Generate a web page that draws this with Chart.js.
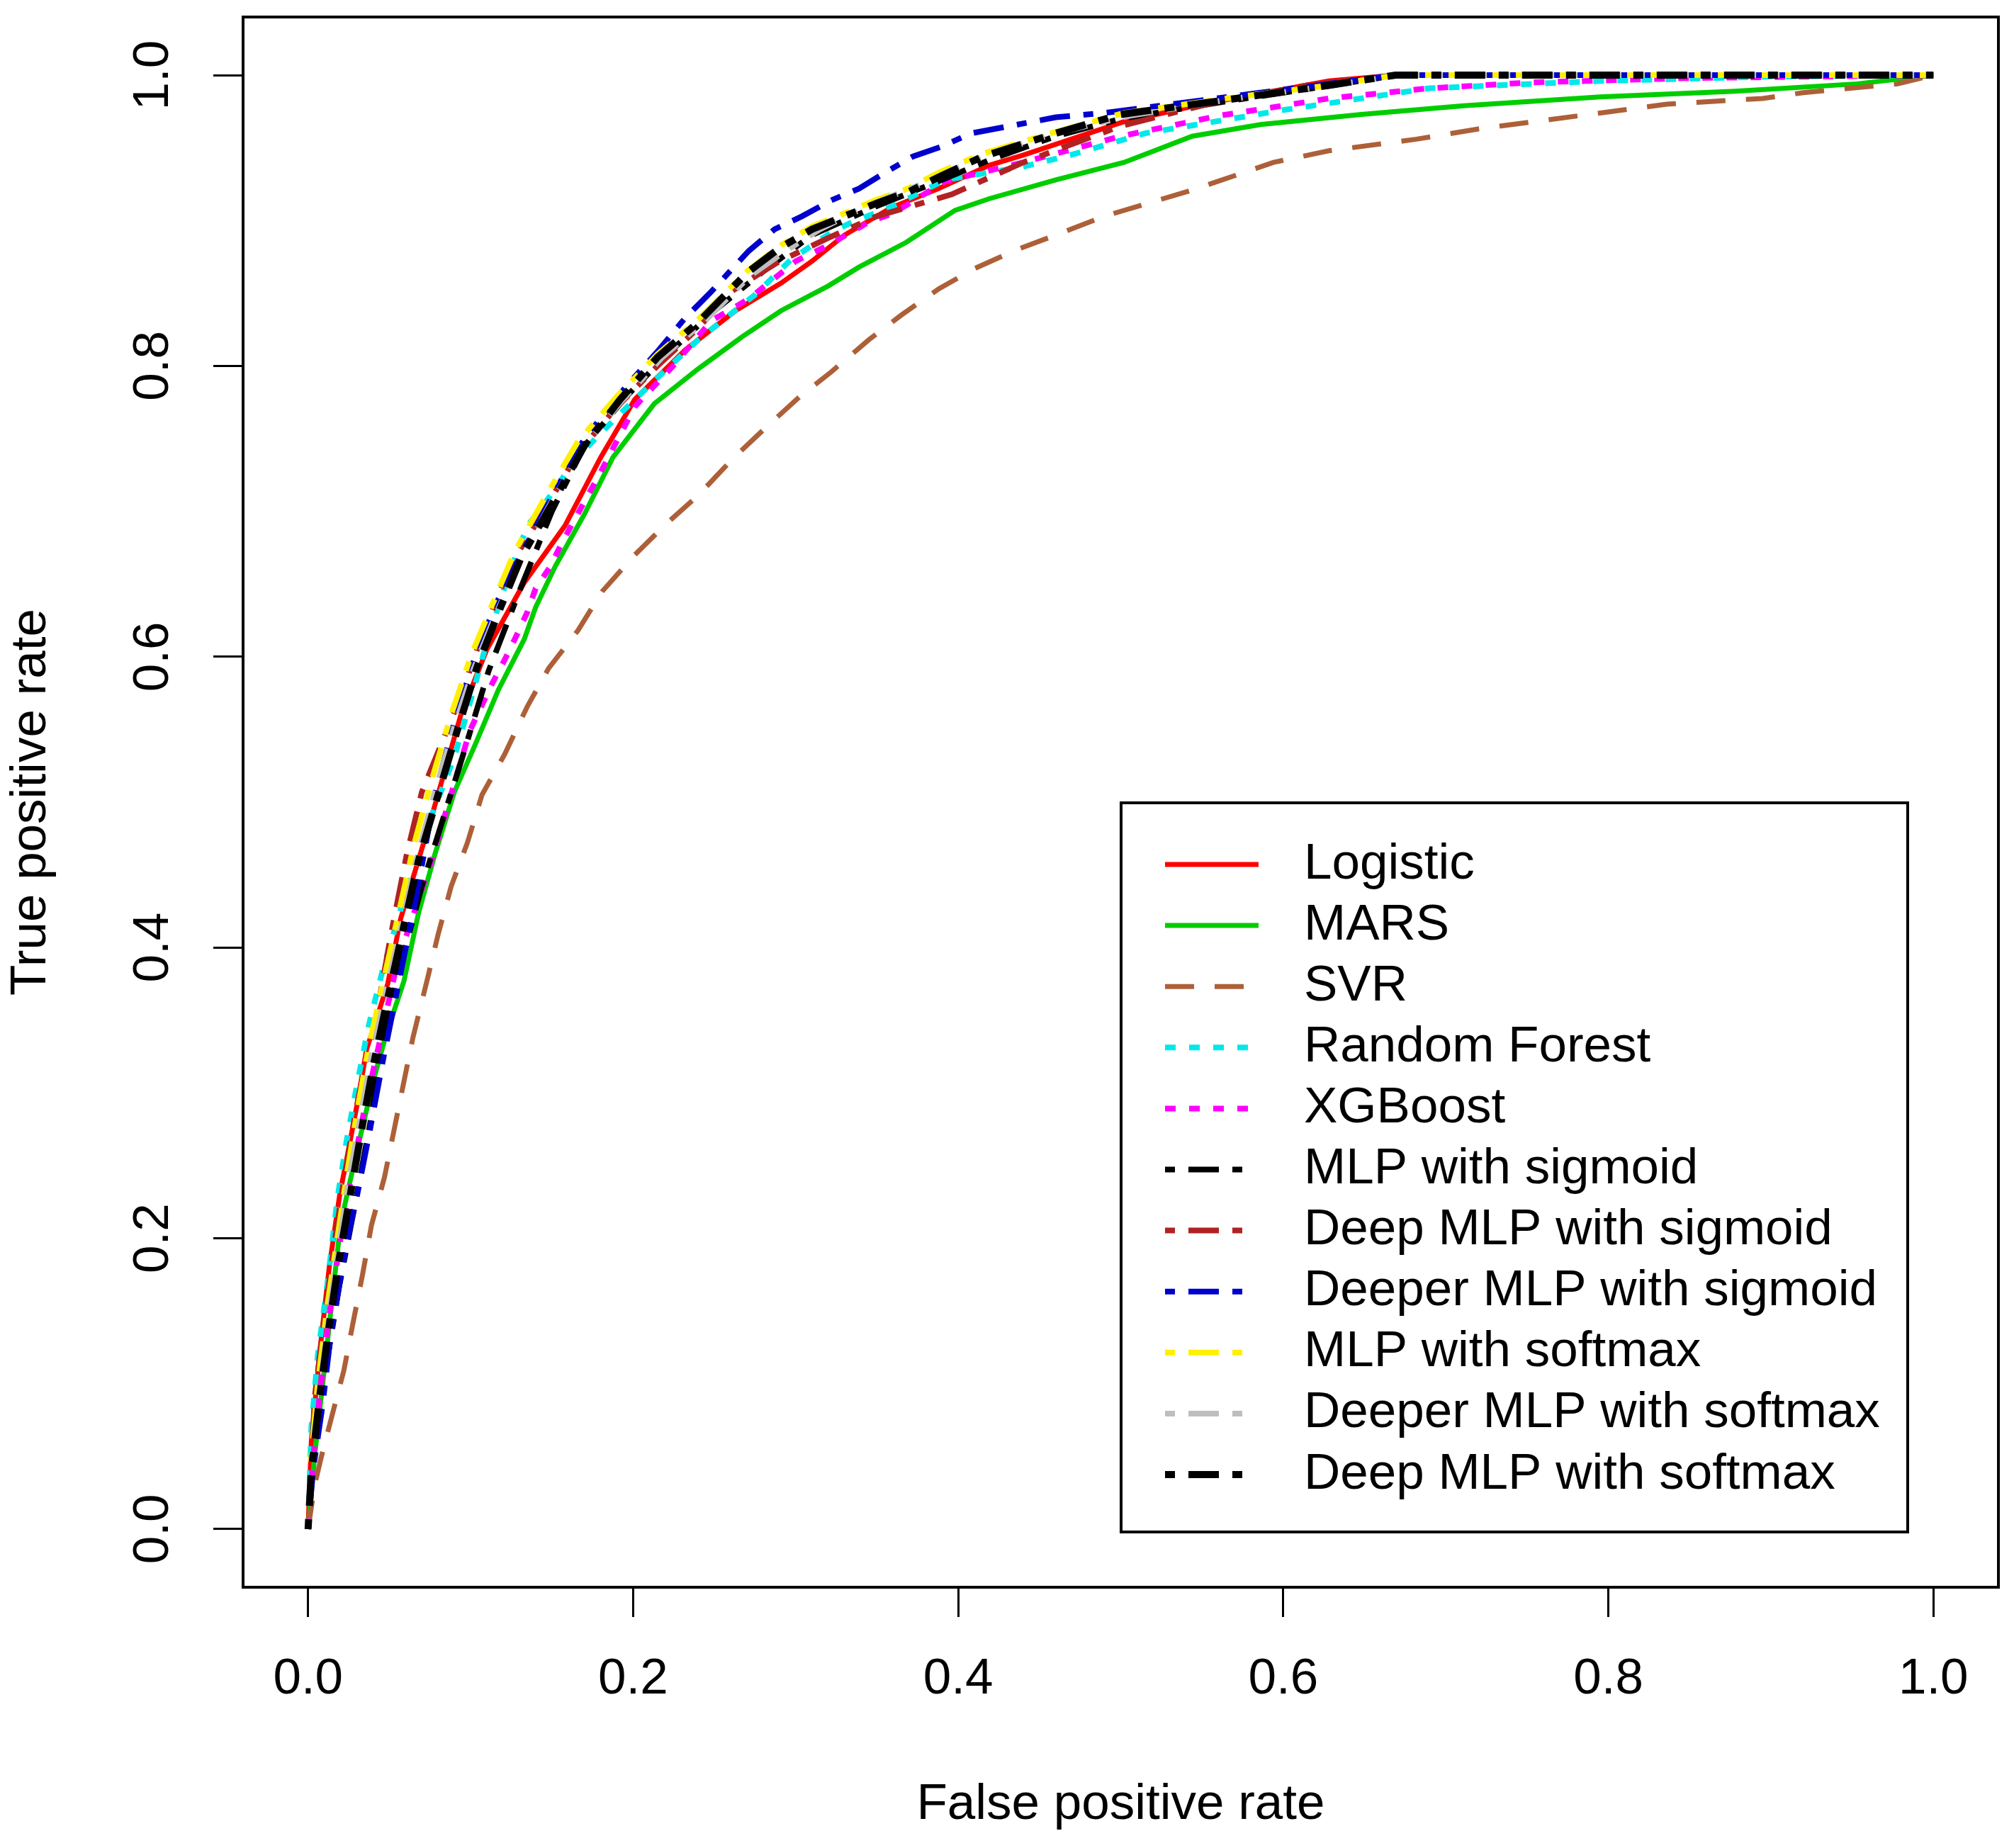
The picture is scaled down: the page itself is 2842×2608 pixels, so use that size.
<!DOCTYPE html>
<html>
<head>
<meta charset="utf-8">
<script src="https://cdn.jsdelivr.net/npm/chart.js@4.4.0/dist/chart.umd.min.js"></script>
<style>
  body { margin: 0; background: #fff; }
  #wrap { width: 2842px; height: 2608px; }
</style>
</head>
<body>
<div id="wrap"><canvas id="roc"></canvas></div>
<script>
// axis ticks
const xTicks = [0, 0.2, 0.4, 0.6, 0.8, 1.0];
const xTickLabels = ['0.0', '0.2', '0.4', '0.6', '0.8', '1.0'];
const yTicks = [0, 0.2, 0.4, 0.6, 0.8, 1.0];
const yTickLabels = ['0.0', '0.2', '0.4', '0.6', '0.8', '1.0'];

const seriesNames = [
    'Logistic', 'MARS', 'SVR', 'Random Forest', 'XGBoost',
    'MLP with sigmoid', 'Deep MLP with sigmoid', 'Deeper MLP with sigmoid',
    'MLP with softmax', 'Deeper MLP with softmax', 'Deep MLP with softmax'
];

// ROC points (false positive rate / true positive rate)
const logisticFpr = [0, 0.002, 0.007, 0.013, 0.0196, 0.0235, 0.031, 0.036, 0.049, 0.057, 0.076, 0.094, 0.11, 0.125, 0.133, 0.158, 0.18, 0.201, 0.232, 0.263, 0.291, 0.31, 0.33, 0.359, 0.388, 0.419, 0.44, 0.502, 0.55, 0.594, 0.628, 0.669, 1];
const logisticTpr = [0, 0.06, 0.12, 0.18, 0.231, 0.253, 0.297, 0.33, 0.375, 0.42, 0.49, 0.56, 0.605, 0.635, 0.651, 0.69, 0.737, 0.777, 0.811, 0.838, 0.857, 0.872, 0.89, 0.909, 0.922, 0.938, 0.945, 0.968, 0.98, 0.989, 0.996, 1, 1];

const marsFpr = [0, 0.004, 0.01, 0.02, 0.03, 0.041, 0.048, 0.059, 0.068, 0.078, 0.09, 0.103, 0.117, 0.133, 0.14, 0.152, 0.17, 0.1875, 0.213, 0.24, 0.267, 0.291, 0.32, 0.339, 0.368, 0.398, 0.419, 0.46, 0.502, 0.544, 0.586, 0.648, 0.711, 0.795, 0.878, 0.953, 1];
const marsTpr = [0, 0.05, 0.11, 0.21, 0.26, 0.312, 0.34, 0.377, 0.424, 0.464, 0.507, 0.54, 0.577, 0.612, 0.634, 0.662, 0.698, 0.737, 0.774, 0.798, 0.82, 0.838, 0.855, 0.868, 0.885, 0.907, 0.915, 0.928, 0.94, 0.958, 0.966, 0.973, 0.979, 0.985, 0.989, 0.994, 1];

const svrFpr = [0, 0.004, 0.008, 0.014, 0.022, 0.0275, 0.0335, 0.039, 0.047, 0.053, 0.059, 0.0645, 0.074, 0.08, 0.088, 0.098, 0.107, 0.121, 0.135, 0.148, 0.166, 0.181, 0.201, 0.219, 0.24, 0.262, 0.281, 0.3026, 0.322, 0.345, 0.365, 0.388, 0.41, 0.436, 0.46, 0.49, 0.544, 0.573, 0.594, 0.628, 0.682, 0.72, 0.795, 0.836, 0.895, 0.92, 0.978, 1];
const svrTpr = [0, 0.03, 0.049, 0.075, 0.109, 0.141, 0.175, 0.209, 0.242, 0.275, 0.308, 0.338, 0.381, 0.409, 0.442, 0.472, 0.505, 0.533, 0.566, 0.592, 0.618, 0.645, 0.67, 0.69, 0.711, 0.737, 0.757, 0.779, 0.796, 0.818, 0.835, 0.853, 0.867, 0.88, 0.89, 0.903, 0.921, 0.932, 0.94, 0.948, 0.956, 0.963, 0.974, 0.98, 0.984, 0.988, 0.994, 1];

const rfFpr = [0, 0.002, 0.006, 0.012, 0.018, 0.0235, 0.03, 0.037, 0.046, 0.058, 0.074, 0.09, 0.099, 0.11, 0.123, 0.135, 0.154, 0.162, 0.19, 0.217, 0.24, 0.275, 0.297, 0.322, 0.335, 0.36, 0.392, 0.44, 0.469, 0.515, 0.6, 0.69, 0.795, 0.9, 1];
const rfTpr = [0, 0.07, 0.12, 0.17, 0.227, 0.266, 0.305, 0.345, 0.385, 0.43, 0.485, 0.531, 0.566, 0.61, 0.655, 0.69, 0.718, 0.733, 0.765, 0.794, 0.818, 0.849, 0.873, 0.892, 0.899, 0.91, 0.928, 0.937, 0.945, 0.96, 0.976, 0.991, 0.996, 0.999, 1];

const xgbFpr = [0, 0.004, 0.009, 0.014, 0.02, 0.027, 0.034, 0.041, 0.055, 0.076, 0.0995, 0.113, 0.121, 0.128, 0.135, 0.14, 0.149, 0.156, 0.18, 0.201, 0.2246, 0.248, 0.271, 0.3, 0.32, 0.345, 0.36, 0.392, 0.44, 0.5, 0.56, 0.628, 0.69, 0.753, 0.85, 1];
const xgbTpr = [0, 0.06, 0.11, 0.155, 0.2, 0.245, 0.285, 0.32, 0.39, 0.46, 0.549, 0.581, 0.598, 0.614, 0.631, 0.647, 0.662, 0.678, 0.727, 0.772, 0.8, 0.831, 0.846, 0.872, 0.883, 0.899, 0.905, 0.927, 0.94, 0.958, 0.972, 0.984, 0.991, 0.995, 0.998, 1];

const mlpSigFpr = [0, 0.0013, 0.006, 0.012, 0.019, 0.0257, 0.031, 0.039, 0.043, 0.055, 0.07, 0.0955, 0.111, 0.13, 0.15, 0.17, 0.195, 0.22, 0.25, 0.28, 0.31, 0.35, 0.39, 0.42, 0.46, 0.5, 0.565, 0.63, 0.67, 1];
const mlpSigTpr = [0, 0.025, 0.073, 0.118, 0.166, 0.205, 0.236, 0.284, 0.318, 0.38, 0.442, 0.533, 0.59, 0.645, 0.7, 0.745, 0.778, 0.807, 0.838, 0.865, 0.89, 0.91, 0.928, 0.942, 0.958, 0.97, 0.982, 0.993, 1, 1];

const deepSigFpr = [0, 0.002, 0.004, 0.01, 0.016, 0.022, 0.029, 0.035, 0.041, 0.051, 0.0607, 0.07, 0.082, 0.094, 0.1055, 0.113, 0.125, 0.145, 0.166, 0.19, 0.215, 0.24, 0.26, 0.29, 0.32, 0.35, 0.396, 0.44, 0.5, 0.56, 0.62, 0.67, 1];
const deepSigTpr = [0, 0.04, 0.09, 0.145, 0.195, 0.24, 0.285, 0.32, 0.346, 0.409, 0.464, 0.507, 0.54, 0.573, 0.61, 0.631, 0.664, 0.7, 0.74, 0.772, 0.8, 0.826, 0.851, 0.872, 0.888, 0.903, 0.918, 0.94, 0.965, 0.982, 0.994, 1, 1];

const deeperSigFpr = [0, 0.003, 0.009, 0.014, 0.0236, 0.0297, 0.0373, 0.046, 0.056, 0.066, 0.078, 0.09, 0.1016, 0.115, 0.13, 0.15, 0.17, 0.195, 0.215, 0.232, 0.248, 0.271, 0.287, 0.304, 0.322, 0.339, 0.355, 0.372, 0.39, 0.408, 0.46, 0.49, 0.586, 0.669, 1];
const deeperSigTpr = [0, 0.04, 0.086, 0.134, 0.196, 0.227, 0.27, 0.322, 0.377, 0.432, 0.505, 0.555, 0.596, 0.635, 0.668, 0.71, 0.75, 0.785, 0.81, 0.833, 0.851, 0.879, 0.894, 0.903, 0.914, 0.922, 0.933, 0.944, 0.951, 0.96, 0.971, 0.974, 0.988, 1, 1];

const mlpSoftFpr = [0, 0.002, 0.006, 0.012, 0.018, 0.024, 0.03, 0.037, 0.045, 0.055, 0.065, 0.076, 0.088, 0.1, 0.113, 0.127, 0.145, 0.166, 0.19, 0.215, 0.24, 0.271, 0.291, 0.31, 0.33, 0.349, 0.369, 0.388, 0.415, 0.46, 0.502, 0.565, 0.628, 0.669, 1];
const mlpSoftTpr = [0, 0.05, 0.1, 0.155, 0.2, 0.245, 0.286, 0.33, 0.37, 0.42, 0.47, 0.515, 0.56, 0.6, 0.635, 0.672, 0.708, 0.748, 0.779, 0.808, 0.832, 0.866, 0.883, 0.896, 0.905, 0.914, 0.922, 0.933, 0.946, 0.961, 0.974, 0.984, 0.993, 1, 1];

const deeperSoftFpr = [0, 0.002, 0.007, 0.013, 0.019, 0.025, 0.032, 0.039, 0.047, 0.057, 0.067, 0.078, 0.09, 0.102, 0.115, 0.13, 0.148, 0.17, 0.193, 0.218, 0.245, 0.272, 0.295, 0.315, 0.335, 0.355, 0.375, 0.395, 0.42, 0.46, 0.505, 0.565, 0.63, 0.672, 1];
const deeperSoftTpr = [0, 0.045, 0.095, 0.15, 0.195, 0.24, 0.282, 0.325, 0.365, 0.413, 0.462, 0.507, 0.552, 0.592, 0.628, 0.665, 0.703, 0.745, 0.776, 0.806, 0.832, 0.862, 0.88, 0.894, 0.905, 0.915, 0.924, 0.934, 0.946, 0.96, 0.972, 0.983, 0.993, 1, 1];

const deepSoftFpr = [0, 0.002, 0.007, 0.013, 0.019, 0.026, 0.033, 0.04, 0.048, 0.058, 0.068, 0.08, 0.092, 0.104, 0.117, 0.131, 0.15, 0.17, 0.192, 0.215, 0.24, 0.27, 0.29, 0.31, 0.33, 0.35, 0.37, 0.39, 0.415, 0.46, 0.5, 0.565, 0.628, 0.669, 1];
const deepSoftTpr = [0, 0.04, 0.09, 0.14, 0.185, 0.23, 0.275, 0.318, 0.36, 0.41, 0.46, 0.505, 0.55, 0.593, 0.63, 0.668, 0.705, 0.745, 0.777, 0.806, 0.83, 0.864, 0.881, 0.894, 0.903, 0.912, 0.92, 0.931, 0.944, 0.96, 0.973, 0.983, 0.993, 1, 1];

const FONT = '"Liberation Sans", Arial, sans-serif';
const FONT_SIZE = 71;

const solid = [];
const dashed = [41, 29];
const dotted = [15, 19];
const dotdash = [14, 19, 43, 19];

const styles = [
    { color: '#FF0000', dash: solid, width: 7 },
    { color: '#00CD00', dash: solid, width: 7 },
    { color: '#AD6038', dash: dashed, width: 7 },
    { color: '#00E8E8', dash: dotted, width: 8 },
    { color: '#FF00FF', dash: dotted, width: 8 },
    { color: '#000000', dash: dotdash, width: 8 },
    { color: '#B22222', dash: dotdash, width: 8 },
    { color: '#0000CD', dash: dotdash, width: 8 },
    { color: '#FFF000', dash: dotdash, width: 8 },
    { color: '#BEBEBE', dash: dotdash, width: 8 },
    { color: '#000000', dash: dotdash, width: 10 }
];

const seriesFpr = [logisticFpr, marsFpr, svrFpr, rfFpr, xgbFpr, mlpSigFpr, deepSigFpr, deeperSigFpr, mlpSoftFpr, deeperSoftFpr, deepSoftFpr];
const seriesTpr = [logisticTpr, marsTpr, svrTpr, rfTpr, xgbTpr, mlpSigTpr, deepSigTpr, deeperSigTpr, mlpSoftTpr, deeperSoftTpr, deepSoftTpr];

const datasets = seriesNames.map((name, i) => ({
    label: name,
    data: seriesFpr[i].map((x, j) => ({ x: x, y: seriesTpr[i][j] })),
    showLine: true,
    borderColor: styles[i].color,
    backgroundColor: styles[i].color,
    borderDash: styles[i].dash,
    borderWidth: styles[i].width,
    borderCapStyle: 'butt',
    pointRadius: 0,
    tension: 0,
    fill: false,
    order: seriesNames.length - i // later series drawn on top, like R
}));

// box, rotated y tick labels and the legend
const decorations = {
    id: 'decorations',
    afterDraw(chart) {
        const ctx = chart.ctx;
        const ca = chart.chartArea;
        ctx.save();

        ctx.strokeStyle = '#000';
        ctx.lineWidth = 4;
        ctx.setLineDash([]);
        ctx.strokeRect(ca.left, ca.top, ca.right - ca.left, ca.bottom - ca.top);

        ctx.fillStyle = '#000';
        ctx.font = FONT_SIZE + 'px ' + FONT;
        ctx.textAlign = 'center';
        ctx.textBaseline = 'middle';
        const ys = chart.scales.y;
        yTicks.forEach((v, i) => {
            ctx.save();
            ctx.translate(217, ys.getPixelForValue(v));
            ctx.rotate(-Math.PI / 2);
            ctx.fillText(yTickLabels[i], 0, 0);
            ctx.restore();
        });

        // legend
        const lx = 1582, ly = 1133, lw = 1110, lh = 1029;
        ctx.lineWidth = 4;
        ctx.strokeRect(lx, ly, lw, lh);
        const rowY0 = 1220, rowStep = 86.1;
        ctx.textAlign = 'left';
        chart.data.datasets.forEach((ds, i) => {
            const y = rowY0 + i * rowStep;
            ctx.beginPath();
            ctx.strokeStyle = ds.borderColor;
            ctx.lineWidth = ds.borderWidth;
            ctx.setLineDash(ds.borderDash);
            ctx.lineCap = 'butt';
            ctx.moveTo(1644, y);
            ctx.lineTo(ds.borderDash.length === 4 ? 1760 : 1776, y);
            ctx.stroke();
            ctx.setLineDash([]);
            ctx.fillStyle = '#000';
            ctx.fillText(ds.label, 1840, y);
        });
        ctx.restore();
    }
};

const ctx = document.getElementById('roc').getContext('2d');
new Chart(ctx, {
    type: 'scatter',
    data: { datasets: datasets },
    options: {
        responsive: true,
        maintainAspectRatio: false,
        animation: false,
        devicePixelRatio: 1,
        layout: { padding: { top: 24, right: 22, left: 0, bottom: 0 } },
        plugins: {
            legend: { display: false },
            tooltip: { enabled: false }
        },
        scales: {
            x: {
                type: 'linear',
                min: -0.04,
                max: 1.04,
                afterBuildTicks: s => { s.ticks = xTicks.map(v => ({ value: v })); },
                afterFit: s => { s.height = 368; },
                grid: { drawOnChartArea: false, drawTicks: true, tickLength: 42, tickColor: '#000', tickWidth: 3 },
                border: { display: false },
                ticks: {
                    color: '#000',
                    padding: 46,
                    maxRotation: 0,
                    autoSkip: false,
                    font: { family: FONT, size: FONT_SIZE },
                    callback: (v, i) => xTickLabels[i]
                },
                title: {
                    display: true,
                    text: 'False positive rate',
                    color: '#000',
                    font: { family: FONT, size: FONT_SIZE },
                    padding: { top: 0, bottom: 18 }
                }
            },
            y: {
                type: 'linear',
                min: -0.04,
                max: 1.04,
                afterBuildTicks: s => { s.ticks = yTicks.map(v => ({ value: v })); },
                afterFit: s => { s.width = 343; },
                grid: { drawOnChartArea: false, drawTicks: true, tickLength: 42, tickColor: '#000', tickWidth: 3 },
                border: { display: false },
                ticks: { display: false },
                title: {
                    display: true,
                    text: 'True positive rate',
                    color: '#000',
                    font: { family: FONT, size: FONT_SIZE },
                    padding: { top: 2, bottom: 0 }
                }
            }
        }
    },
    plugins: [decorations]
});
</script>
</body>
</html>
